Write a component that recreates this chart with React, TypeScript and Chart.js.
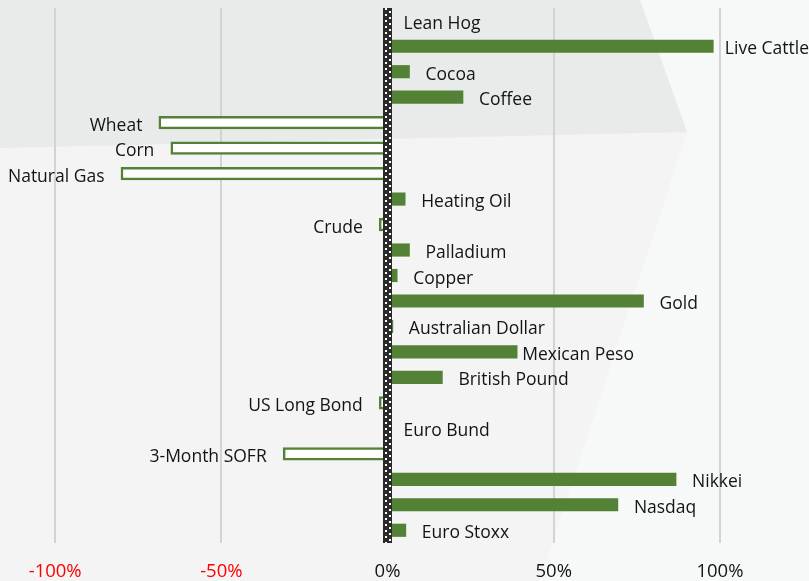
import React, { useEffect, useRef } from "react";
import { Chart, registerables } from "chart.js";

Chart.register(...registerables);

const categories: string[] = [
  "Lean Hog", "Live Cattle", "Cocoa", "Coffee", "Wheat", "Corn", "Natural Gas",
  "Heating Oil", "Crude", "Palladium", "Copper", "Gold", "Australian Dollar",
  "Mexican Peso", "British Pound", "US Long Bond", "Euro Bund", "3-Month SOFR",
  "Nikkei", "Nasdaq", "Euro Stoxx",
];

const values: number[] = [
  0, 98.0, 6.6, 22.7, -68.8, -65.2, -80.2,
  5.3, -2.5, 6.6, 2.9, 77.0, 1.6,
  39.0, 16.5, -2.5, 0, -31.4,
  86.8, 69.3, 5.5,
];

const tickValues: number[] = [-100, -50, 0, 50, 100];

const GREEN = "#538135";
const TEXT = "#141414";
const FONT = "'Open Sans', 'Noto Sans', sans-serif";
const LABEL_NUDGE: Record<string, number> = { "Mexican Peso": -11 };

const backgroundPlugin = {
  id: "bgShapes",
  beforeDraw(chart: any) {
    const { ctx, width, height } = chart;
    ctx.save();
    ctx.fillStyle = "#f3f4f3";
    ctx.fillRect(0, 0, width, height);
    ctx.fillStyle = "#f7f8f8";
    ctx.beginPath();
    ctx.moveTo(640, 0);
    ctx.lineTo(width, 0);
    ctx.lineTo(width, height);
    ctx.lineTo(540, height);
    ctx.lineTo(687, 132);
    ctx.closePath();
    ctx.fill();
    ctx.fillStyle = "#e9eaea";
    ctx.beginPath();
    ctx.moveTo(0, 0);
    ctx.lineTo(640, 0);
    ctx.lineTo(687, 132);
    ctx.lineTo(0, 148);
    ctx.closePath();
    ctx.fill();
    ctx.restore();
  },
};

function makePattern(ctx: CanvasRenderingContext2D) {
  const c = document.createElement("canvas");
  c.width = 8;
  c.height = 6;
  const p = c.getContext("2d")!;
  p.fillStyle = "#2a2a2a";
  p.fillRect(0, 0, 8, 6);
  p.fillStyle = "#ffffff";
  p.fillRect(2, 0, 2, 2);
  p.fillRect(6, 3, 2, 2);
  return ctx.createPattern(c, "repeat");
}

const overlayPlugin = {
  id: "overlay",
  afterDatasetsDraw(chart: any) {
    const { ctx, chartArea, width } = chart;
    const xs = chart.scales.x;
    const ys = chart.scales.y;
    ctx.save();
    const zx = xs.getPixelForValue(0);
    const pat = makePattern(ctx);
    ctx.translate(Math.round(zx - 4.5), chartArea.top);
    ctx.fillStyle = pat;
    ctx.fillRect(0, 0, 9, chartArea.bottom - chartArea.top);
    ctx.setTransform(1, 0, 0, 1, 0, 0);
    ctx.font = `17.5px ${FONT}`;
    ctx.fillStyle = TEXT;
    ctx.textBaseline = "alphabetic";
    categories.forEach((name, i) => {
      const v = values[i];
      const x = xs.getPixelForValue(v);
      const y = ys.getPixelForValue(i) + 8;
      const nudge = LABEL_NUDGE[name] || 0;
      if (v < 0) {
        ctx.textAlign = "right";
        ctx.fillText(name, x - 16.5 + nudge, y);
      } else {
        ctx.textAlign = "left";
        const w = ctx.measureText(name).width;
        const start = Math.min(Math.max(x, zx) + 16 + nudge, width - w);
        ctx.fillText(name, start, y);
      }
    });
    ctx.restore();
  },
};

export default function App() {
  const ref = useRef<HTMLCanvasElement | null>(null);
  useEffect(() => {
    if (!ref.current) return;
    const chart = new Chart(ref.current, {
      type: "bar",
      data: {
        labels: categories,
        datasets: [
          {
            data: values,
            backgroundColor: values.map((v) => (v < 0 ? "#ffffff" : GREEN)),
            borderColor: GREEN,
            borderWidth: values.map((v) => (v < 0 ? 2.5 : 0)),
            barThickness: 12.5,
          },
        ],
      },
      options: {
        indexAxis: "y",
        responsive: false,
        animation: false,
        layout: { padding: { top: 8, left: 0, right: 0, bottom: 0 } },
        plugins: { legend: { display: false }, tooltip: { enabled: false } },
        scales: {
          x: {
            type: "linear",
            min: -116.6,
            max: 126.8,
            afterBuildTicks: (scale: any) => {
              scale.ticks = tickValues.map((v) => ({ value: v }));
            },
            afterFit: (scale: any) => {
              scale.height = 38;
            },
            border: { display: false },
            grid: {
              drawTicks: false,
              lineWidth: 2,
              color: (c: any) => (c.tick && c.tick.value === 0 ? "rgba(0,0,0,0)" : "#d3d3d3"),
            },
            ticks: {
              padding: 18,
              font: { family: FONT, size: 18.5 },
              color: (c: any) => (c.tick && c.tick.value < 0 ? "#ff0000" : TEXT),
              callback: (v: any) => `${v}%`,
            },
          },
          y: {
            type: "category",
            display: false,
            grid: { display: false },
          },
        },
      },
      plugins: [backgroundPlugin, overlayPlugin],
    } as any);
    return () => chart.destroy();
  }, []);
  return (
    <div style={{ position: "absolute", left: 0, top: 0, width: 809, height: 581 }}>
      <canvas ref={ref} width={809} height={581} style={{ width: 809, height: 581, display: "block" }} />
    </div>
  );
}
